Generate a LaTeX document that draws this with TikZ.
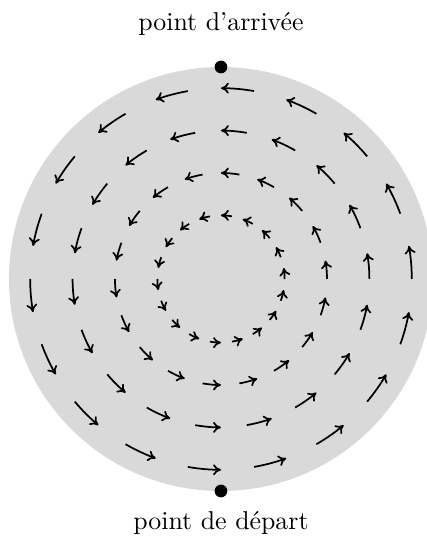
\documentclass[tikz,border=0pt]{standalone}
\usetikzlibrary{arrows.meta}
\tikzset{
  flowarrow/.style={-{Computer Modern Rightarrow[length=3.2pt,width=4.4pt]},line width=0.7pt},
  dotnode/.style={circle,fill=black,inner sep=0pt,minimum size=0.18cm},
  labelnode/.style={anchor=base,inner sep=0pt,font=\fontsize{10.4}{12}\selectfont}
}
\begin{document}
\begin{tikzpicture}
\useasboundingbox (-3.127,-3.750) rectangle (2.915,3.948);
\clip (-3.127,-3.750) rectangle (2.915,3.948);
\fill[black!15] (0,0) circle (3);
\foreach \r in {0.9,1.5,2.1,2.7}{
  \foreach \a in {0,20,...,340}{
    \draw[flowarrow] (\a:\r) arc[start angle=\a, end angle=\a+10, radius=\r];
  }
}
\node[dotnode] (arrivee) at (0,3) {};
\node[dotnode] (depart) at (0,-3) {};
\node[labelnode] (labelarrivee) at (0,3.523) {point d'arrivée};
\node[labelnode] (labeldepart) at (0,-3.538) {point de départ};
\end{tikzpicture}
\end{document}
